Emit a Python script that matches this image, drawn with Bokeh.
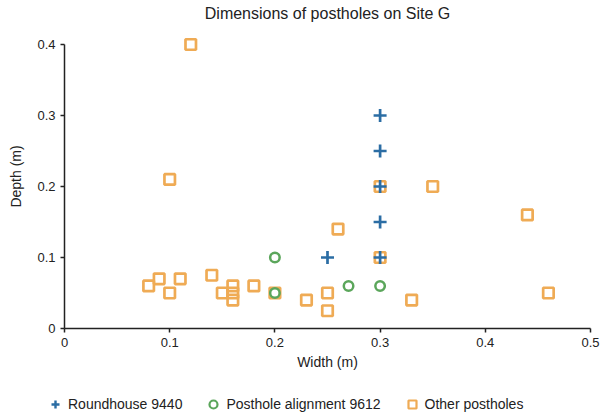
from bokeh.plotting import figure
from bokeh.layouts import column
from bokeh.models import Range1d, Legend, LegendItem, FixedTicker
from bokeh.embed import file_html
from bokeh.resources import INLINE

FONT = "Liberation Sans"

round_w = [0.3, 0.3, 0.3, 0.3, 0.3, 0.25]
round_d = [0.3, 0.25, 0.2, 0.15, 0.1, 0.1]

align_w = [0.2, 0.2, 0.27, 0.3]
align_d = [0.1, 0.05, 0.06, 0.06]

other_w = [0.12, 0.1, 0.08, 0.09, 0.1, 0.11, 0.14, 0.15, 0.16, 0.16, 0.16, 0.18,
           0.2, 0.23, 0.25, 0.25, 0.26, 0.3, 0.3, 0.33, 0.35, 0.44, 0.46]
other_d = [0.4, 0.21, 0.06, 0.07, 0.05, 0.07, 0.075, 0.05, 0.06, 0.05, 0.04, 0.06,
           0.05, 0.04, 0.05, 0.025, 0.14, 0.2, 0.1, 0.04, 0.2, 0.16, 0.05]

series_names = ["Roundhouse 9440", "Posthole alignment 9612", "Other postholes"]

x_ticks = [0, 0.1, 0.2, 0.3, 0.4, 0.5]
y_ticks = [0, 0.1, 0.2, 0.3, 0.4]

BLUE = "#2b6da4"
GREEN = "#5ba65b"
ORANGE = "#efab55"

p = figure(width=606, height=384, output_backend="svg", toolbar_location=None,
           x_range=Range1d(0, 0.5), y_range=Range1d(0, 0.4282),
           min_border_left=64, min_border_right=16, min_border_top=24,
           min_border_bottom=56, title="Dimensions of postholes on Site G")
p.frame_align = False

p.title.align = "center"
p.title.vertical_align = "bottom"
p.title.text_font = FONT
p.title.text_font_size = "16px"
p.title.text_font_style = "normal"
p.title.text_color = "#222222"
p.title.standoff = 5

p.xgrid.visible = False
p.ygrid.visible = False
p.outline_line_color = None
p.background_fill_color = "white"
p.border_fill_color = "white"

for ax, ticks in ((p.xaxis, x_ticks), (p.yaxis, y_ticks)):
    ax.ticker = FixedTicker(ticks=ticks)
    ax.minor_tick_line_color = None
    ax.major_tick_in = 0
    ax.major_tick_out = 4
    ax.axis_line_width = 1.5
    ax.axis_line_color = "#222222"
    ax.major_tick_line_color = "#222222"
    ax.major_tick_line_width = 1.5
    ax.major_label_text_font = FONT
    ax.major_label_text_font_size = "13px"
    ax.major_label_text_color = "#222222"
    ax.axis_label_text_font = FONT
    ax.axis_label_text_font_size = "14px"
    ax.axis_label_text_font_style = "normal"
    ax.axis_label_text_color = "#222222"

p.yaxis.bounds = (0, 0.4)
p.xaxis.axis_label = "Width (m)"
p.yaxis.axis_label = "Depth (m)"
p.xaxis.major_label_overrides = {0: "0", 0.1: "0.1", 0.2: "0.2", 0.3: "0.3", 0.4: "0.4", 0.5: "0.5"}
p.yaxis.major_label_overrides = {0: "0", 0.1: "0.1", 0.2: "0.2", 0.3: "0.3", 0.4: "0.4"}
p.xaxis.axis_label_standoff = 4
p.yaxis.axis_label_standoff = 10

SQ = dict(marker="square", size=10.5, fill_color=None, line_color=ORANGE, line_width=2.7)
CI = dict(marker="circle", size=9.5, fill_color=None, line_color=GREEN, line_width=2.5)
CR = dict(marker="cross", size=13, line_color=BLUE, line_width=2.7)

p.scatter(other_w, other_d, **SQ)
p.scatter(align_w, align_d, **CI)
p.scatter(round_w, round_d, **CR)

# legend strip below the chart (its own view range keeps the series' points out of sight)
lg = figure(width=606, height=30, output_backend="svg", toolbar_location=None,
            x_axis_type=None, y_axis_type=None, x_range=Range1d(10, 11), y_range=Range1d(10, 11),
            min_border_left=0, min_border_right=0, min_border_top=0, min_border_bottom=0)
lg.frame_align = False
lg.xgrid.visible = False
lg.ygrid.visible = False
lg.outline_line_color = None
lg.border_fill_color = "white"
lg.background_fill_color = "white"

LSQ = dict(SQ, line_width=2.2)
LCI = dict(CI, line_width=2.2)
LCR = dict(CR, line_width=2.4)
l_round = lg.scatter(round_w, round_d, **LCR)
l_align = lg.scatter(align_w, align_d, **LCI)
l_other = lg.scatter(other_w, other_d, **LSQ)

legend = Legend(items=[
    LegendItem(label=series_names[0], renderers=[l_round]),
    LegendItem(label=series_names[1], renderers=[l_align]),
    LegendItem(label=series_names[2], renderers=[l_other]),
], orientation="horizontal", location=(45, 0), spacing=21, glyph_width=20,
    glyph_height=20, label_height=20,
    label_standoff=3, border_line_color=None, background_fill_alpha=0,
    label_text_font=FONT, label_text_font_size="14px", label_text_color="#222222",
    margin=0, padding=0)
lg.add_layout(legend, "center")

layout = column(p, lg, spacing=0)
open("out.html", "w").write(file_html(layout, INLINE))
